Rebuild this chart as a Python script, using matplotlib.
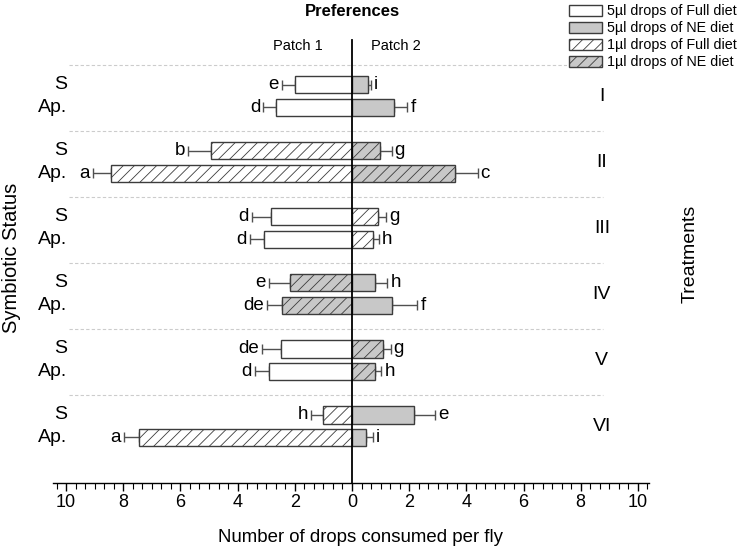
import matplotlib.pyplot as plt
from matplotlib.patches import Patch
from matplotlib.ticker import FuncFormatter

plt.rcParams['font.family'] = ['Liberation Sans', 'DejaVu Sans']
plt.rcParams['hatch.linewidth'] = 0.6

# данные
treatments = ['I', 'II', 'III', 'IV', 'V', 'VI']
status = ['S', 'Ap.']

p1_S = [2.01, 4.94, 2.83, 2.18, 2.47, 1.02]
p1_S_err = [0.45, 0.80, 0.68, 0.73, 0.69, 0.41]
p1_Ap = [2.64, 8.44, 3.09, 2.44, 2.89, 7.46]
p1_Ap_err = [0.46, 0.62, 0.48, 0.53, 0.51, 0.52]
p2_S = [0.56, 0.99, 0.91, 0.81, 1.09, 2.16]
p2_S_err = [0.10, 0.40, 0.29, 0.43, 0.27, 0.74]
p2_Ap = [1.47, 3.61, 0.73, 1.40, 0.82, 0.48]
p2_Ap_err = [0.47, 0.79, 0.22, 0.89, 0.21, 0.26]

p1_S_let = ['e', 'b', 'd', 'e', 'de', 'h']
p1_Ap_let = ['d', 'a', 'd', 'de', 'd', 'a']
p2_S_let = ['i', 'g', 'g', 'h', 'g', 'e']
p2_Ap_let = ['f', 'c', 'h', 'f', 'h', 'i']

# тип капель в каждом патче
p1_kind = ['full5', 'full1', 'full5', 'ne1', 'full5', 'full1']
p2_kind = ['ne5', 'ne1', 'full1', 'ne5', 'ne1', 'ne5']

kinds = ['full5', 'ne5', 'full1', 'ne1']
kind_labels = ['5µl drops of Full diet', '5µl drops of NE diet',
               '1µl drops of Full diet', '1µl drops of NE diet']

gray = '#c8c8c8'
edge = '#3c3c3c'
styles = {
    'full5': dict(facecolor='white', hatch=None),
    'ne5': dict(facecolor=gray, hatch=None),
    'full1': dict(facecolor='white', hatch='///'),
    'ne1': dict(facecolor=gray, hatch='///'),
}

fig = plt.figure(figsize=(7.4, 5.47), dpi=100)
ax = fig.add_axes([0, 0, 1, 1])
ax.set_xlim(-12.31, 13.57)
ax.set_ylim(6.83, -1.455)

off = 0.17
h = 0.26
axis_y = 5.86


def draw(y, val, err, kind, letter, side):
    x = -val if side == 'left' else val
    ax.barh(y, x, height=h, edgecolor=edge, linewidth=1, zorder=2, **styles[kind])
    xerr = [[err], [0]] if side == 'left' else [[0], [err]]
    ax.errorbar(x, y, xerr=xerr, fmt='none', ecolor='#505050', elinewidth=1,
                capsize=3.5, capthick=1, zorder=1)
    end = x - err if side == 'left' else x + err
    if side == 'left':
        ax.text(end - 0.1, y, letter, ha='right', va='center', fontsize=13.5)
    else:
        ax.text(end + 0.1, y, letter, ha='left', va='center', fontsize=13.5)


for i, t in enumerate(treatments):
    yS = i - off
    yA = i + off
    draw(yS, p1_S[i], p1_S_err[i], p1_kind[i], p1_S_let[i], 'left')
    draw(yA, p1_Ap[i], p1_Ap_err[i], p1_kind[i], p1_Ap_let[i], 'left')
    draw(yS, p2_S[i], p2_S_err[i], p2_kind[i], p2_S_let[i], 'right')
    draw(yA, p2_Ap[i], p2_Ap_err[i], p2_kind[i], p2_Ap_let[i], 'right')
    ax.text(-9.97, yS, status[0], ha='right', va='center', fontsize=14)
    ax.text(-9.97, yA, status[1], ha='right', va='center', fontsize=14)
    ax.text(8.74, i, t, ha='center', va='center', fontsize=14)
    ax.plot([-9.9, 8.78], [i - 0.47, i - 0.47], color='#cccccc', lw=0.8,
            ls=(0, (3, 2)), zorder=0)

# вертикальная линия по нулю
ax.plot([0, 0], [-0.85, axis_y], color='black', lw=1.3, zorder=3)

# ось X
for s in ['left', 'right', 'top']:
    ax.spines[s].set_visible(False)
ax.spines['bottom'].set_position(('data', axis_y))
ax.spines['bottom'].set_bounds(-10.45, 10.4)
ax.spines['bottom'].set_linewidth(1)
ax.set_yticks([])
ax.set_xticks(range(-10, 11, 2))
ax.set_xticks([v / 3 for v in range(-31, 32)], minor=True)
ax.xaxis.set_major_formatter(FuncFormatter(lambda v, p: '%d' % abs(round(v))))
ax.tick_params(axis='x', which='major', length=6, width=1, labelsize=13, pad=2)
ax.tick_params(axis='x', which='minor', length=4, width=0.8)

fig.text(361 / 740, 1 - 537 / 547, 'Number of drops consumed per fly',
         ha='center', va='center', fontsize=13.4)
fig.text(352 / 740, 1 - 12 / 547, 'Preferences', ha='center', va='center',
         fontsize=12, fontweight='bold')
fig.text(298 / 740, 1 - 46 / 547, 'Patch 1', ha='center', va='center', fontsize=10.5)
fig.text(396 / 740, 1 - 46 / 547, 'Patch 2', ha='center', va='center', fontsize=10.5)
fig.text(12 / 740, 1 - 258 / 547, 'Symbiotic Status', ha='center', va='center',
         rotation=90, fontsize=14.5)
fig.text(690 / 740, 1 - 254 / 547, 'Treatments', ha='center', va='center',
         rotation=90, fontsize=14)

handles = [Patch(edgecolor=edge, linewidth=1, label=l, **styles[k])
           for k, l in zip(kinds, kind_labels)]
leg = fig.legend(handles=handles, loc='upper right',
                 bbox_to_anchor=(738 / 740, 1 - 3 / 547), fontsize=10.3,
                 handlelength=2.3, handleheight=0.8, handletextpad=0.35,
                 labelspacing=0.2, borderpad=0.1, borderaxespad=0,
                 frameon=True, fancybox=False)
leg.get_frame().set_edgecolor('none')
leg.get_frame().set_facecolor('white')
leg.get_frame().set_alpha(1)

fig.savefig('out.png', dpi=100)
